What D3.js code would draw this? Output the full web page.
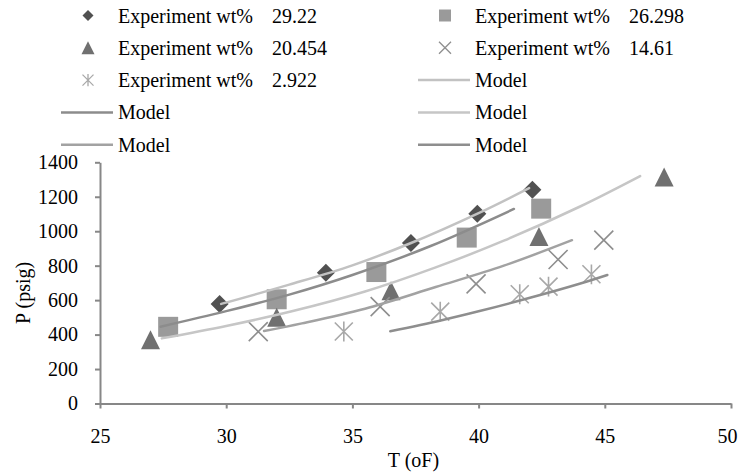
<!DOCTYPE html>
<html>
<head>
<meta charset="utf-8">
<script src="https://cdn.jsdelivr.net/npm/d3@7"></script>
<style>
  html, body { margin: 0; padding: 0; background: #fff; }
  svg { display: block; }
  text { white-space: pre; font-family: "Liberation Serif", "Times New Roman", serif; }
</style>
</head>
<body>
<svg id="chart" width="738" height="474"></svg>
<script>
// Measured hydrate equilibrium points: [T (oF), P (psig)] for each inhibitor concentration
const exp29_22  = [[29.74, 578], [33.95, 759], [37.32, 932], [39.95, 1102], [42.13, 1241]];
const exp26_298 = [[27.7, 445], [32.0, 605], [35.95, 763], [39.53, 963], [42.48, 1131]];
const exp20_454 = [[27.0, 370], [32.0, 500], [36.53, 655], [42.39, 970], [47.35, 1314]];
const exp14_61  = [[31.27, 417], [36.1, 562], [39.9, 694], [43.15, 836], [44.96, 948]];
const exp2_922  = [[34.66, 418], [38.48, 533], [41.63, 634], [42.77, 678], [44.47, 750]];

// Model predictions for the same concentrations
const model29_22  = [[29.8, 578], [32.5, 690], [35.0, 802], [37.3, 930], [40.0, 1105], [42.0, 1250]];
const model26_298 = [[27.4, 446], [30.0, 536], [32.5, 632], [35.0, 746], [38.1, 914], [41.4, 1129]];
const model20_454 = [[27.45, 378], [30.0, 450], [32.6, 535], [35.5, 650], [38.3, 790], [41.0, 945], [44.0, 1142], [46.4, 1320]];
const model14_61  = [[31.5, 421], [33.0, 465], [35.5, 550], [38.3, 676], [41.0, 800], [43.7, 948]];
const model2_922  = [[36.5, 419], [38.5, 482], [40.0, 535], [42.0, 612], [44.0, 695], [45.1, 746]];

const wtLabels = ["29.22", "26.298", "20.454", "14.61", "2.922"];
const xTicks = [25, 30, 35, 40, 45, 50];
const yTicks = [0, 200, 400, 600, 800, 1000, 1200, 1400];
const xTitle = "T (oF)";
const yTitle = "P (psig)";

const FONT = "'Liberation Serif', 'Times New Roman', serif";
const svg = d3.select("#chart");
const x = d3.scaleLinear().domain([25, 50]).range([100, 731]);
const y = d3.scaleLinear().domain([0, 1400]).range([403.5, 162.3]);

const axisColor = "#878787";
const font = 20;

// Marker shapes
function diamond(s) { return `M0,${-s}L${s},0L0,${s}L${-s},0Z`; }
function square(s) { return `M${-s},${-s}H${s}V${s}H${-s}Z`; }
function triangle(s) { return `M0,${-s}L${s},${s}L${-s},${s}Z`; }
function cross(s) { return `M${-s},${-s}L${s},${s}M${-s},${s}L${s},${-s}`; }
function star(s) { return `M${-s},${-s}L${s},${s}M${-s},${s}L${s},${-s}M0,${-s * 1.1}L0,${s * 1.1}`; }

const expSeries = [
  { data: exp29_22,  shape: diamond,  size: 9,   fill: "#515151", stroke: "none", lsize: 5.5 },
  { data: exp26_298, shape: square,   size: 10,  fill: "#9a9a9a", stroke: "none", lsize: 6 },
  { data: exp20_454, shape: triangle, size: 9.5, fill: "#707070", stroke: "none", lsize: 6.5 },
  { data: exp14_61,  shape: cross,    size: 9.5, fill: "none", stroke: "#8e8e8e", lsize: 6 },
  { data: exp2_922,  shape: star,     size: 9,   fill: "none", stroke: "#a8a8a8", lsize: 5.5 }
];
const modelSeries = [
  { data: model29_22,  color: "#c2c2c2" },
  { data: model26_298, color: "#8c8c8c" },
  { data: model20_454, color: "#c6c6c6" },
  { data: model14_61,  color: "#a2a2a2" },
  { data: model2_922,  color: "#8e8e8e" }
];

function label(sel) {
  return sel.attr("font-family", FONT).attr("font-size", font).attr("fill", "#000");
}

// Axes
const fmt = d3.format("d");
const xAxis = d3.axisBottom(x).tickValues(xTicks).tickFormat(fmt).tickSize(5).tickPadding(20).tickSizeOuter(0);
const gx = svg.append("g").attr("transform", `translate(0,${y(0)})`).call(xAxis);
const yAxis = d3.axisLeft(y).tickValues(yTicks).tickFormat(fmt).tickSize(5).tickPadding(17).tickSizeOuter(0);
const gy = svg.append("g").attr("transform", `translate(${x(25)},0)`).call(yAxis);
[gx, gy].forEach(g => {
  g.attr("font-family", FONT).attr("font-size", font);
  g.select(".domain").attr("stroke", axisColor).attr("stroke-width", 2);
  g.selectAll(".tick line").attr("stroke", axisColor).attr("stroke-width", 2);
  label(g.selectAll(".tick text"));
});
// keep the last x label inside the frame
gx.selectAll(".tick text").filter(d => d === 50).attr("text-anchor", "end").attr("x", 737 - x(50));

// Axis titles
label(svg.append("text")).attr("x", (x(25) + x(50)) / 2 - 2).attr("y", 467)
  .attr("text-anchor", "middle").text(xTitle);
label(svg.append("text")).attr("transform", `translate(30,${(y(0) + y(1400)) / 2 + 10}) rotate(-90)`)
  .attr("text-anchor", "middle").text(yTitle);

// Experimental markers
const plot = svg.append("g");
expSeries.forEach(s => {
  plot.append("g").selectAll("path").data(s.data).join("path")
    .attr("transform", d => `translate(${x(d[0])},${y(d[1])})`)
    .attr("d", s.shape(s.size))
    .attr("fill", s.fill)
    .attr("stroke", s.stroke)
    .attr("stroke-width", 1.6);
});

// Model curves
const line = d3.line().x(d => x(d[0])).y(d => y(d[1])).curve(d3.curveCatmullRom.alpha(0.5));
modelSeries.forEach(m => {
  plot.append("path").datum(m.data).attr("d", line)
    .attr("fill", "none").attr("stroke", m.color).attr("stroke-width", 2.5)
    .attr("stroke-linecap", "round");
});

// Legend: two columns, items in series order
const legendItems = [];
expSeries.forEach((s, i) => legendItems.push({ kind: "exp", s, label: "Experiment wt%", value: wtLabels[i] }));
modelSeries.forEach(m => legendItems.push({ kind: "model", m, label: "Model" }));
const colX = [118, 475];
const rowY = [22.5, 54.8, 87.1, 119.4, 151.7];
const legend = svg.append("g");
legendItems.forEach((it, i) => {
  const col = i % 2, row = Math.floor(i / 2);
  const tx = colX[col], by = rowY[row], cy = by - 7;
  if (it.kind === "exp") {
    legend.append("path")
      .attr("transform", `translate(${tx - 30},${cy})`)
      .attr("d", it.s.shape(it.s.lsize))
      .attr("fill", it.s.fill).attr("stroke", it.s.stroke).attr("stroke-width", 1.3);
    label(legend.append("text")).attr("x", tx).attr("y", by).text(it.label);
    label(legend.append("text")).attr("x", tx + 154).attr("y", by).text(it.value);
  } else {
    legend.append("line")
      .attr("x1", tx - 57).attr("x2", tx - 5).attr("y1", cy).attr("y2", cy)
      .attr("stroke", it.m.color).attr("stroke-width", 2.5);
    label(legend.append("text")).attr("x", tx).attr("y", by).text(it.label);
  }
});
</script>
</body>
</html>
